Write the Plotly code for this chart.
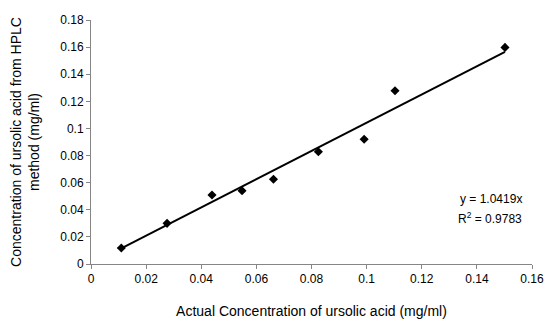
import plotly.graph_objects as go

actual = [0.011, 0.0276, 0.0439, 0.0548, 0.0662, 0.0825, 0.0991, 0.1103, 0.1502]
hplc = [0.0118, 0.030, 0.0509, 0.054, 0.0625, 0.0828, 0.092, 0.1278, 0.1598]
slope = 1.0419
r2 = 0.9783
x_ticks = [0, 0.02, 0.04, 0.06, 0.08, 0.1, 0.12, 0.14, 0.16]
y_ticks = [0, 0.02, 0.04, 0.06, 0.08, 0.1, 0.12, 0.14, 0.16, 0.18]

fit_x = [min(actual), max(actual)]
fit_y = [slope * v for v in fit_x]

font = dict(family="Liberation Sans, Arial, sans-serif", size=12, color="#000000")
axis_col = "#868686"

fig = go.Figure()
fig.add_trace(go.Scatter(x=fit_x, y=fit_y, mode="lines",
                         line=dict(color="black", width=2), showlegend=False))
fig.add_trace(go.Scatter(x=actual, y=hplc, mode="markers",
                         marker=dict(symbol="diamond", size=7, color="black"),
                         showlegend=False))

fig.add_annotation(x=0.157, y=0.048, xref="x", yref="y", xanchor="right", yanchor="middle",
                   text=f"y = {slope}x", showarrow=False, font=font, align="left")
fig.add_annotation(x=0.157, y=0.034, xref="x", yref="y", xanchor="right", yanchor="middle",
                   text=f"R<sup>2</sup> = {r2}", showarrow=False, font=font, align="left")

fig.update_layout(
    width=544, height=319,
    margin=dict(l=83, r=20, t=12, b=63),
    paper_bgcolor="white", plot_bgcolor="white",
    font=font,
    xaxis=dict(range=[0, 0.16], tickvals=x_ticks, ticktext=[f"{v:g}" for v in x_ticks],
               showgrid=False, zeroline=False, showline=True, linecolor=axis_col, linewidth=1,
               ticks="outside", ticklen=4, tickcolor=axis_col, automargin=False,
               title=dict(text="Actual Concentration of ursolic acid (mg/ml)", standoff=20)),
    yaxis=dict(range=[0, 0.18], tickvals=y_ticks, ticktext=[f"{v:g}" for v in y_ticks],
               showgrid=False, zeroline=False, showline=True, linecolor=axis_col, linewidth=1,
               ticks="outside", ticklen=4, tickcolor=axis_col, automargin=False,
               title=dict(text="Concentration of ursolic acid from HPLC<br>method (mg/ml)", standoff=32)),
)

fig.write_html("out.html")
